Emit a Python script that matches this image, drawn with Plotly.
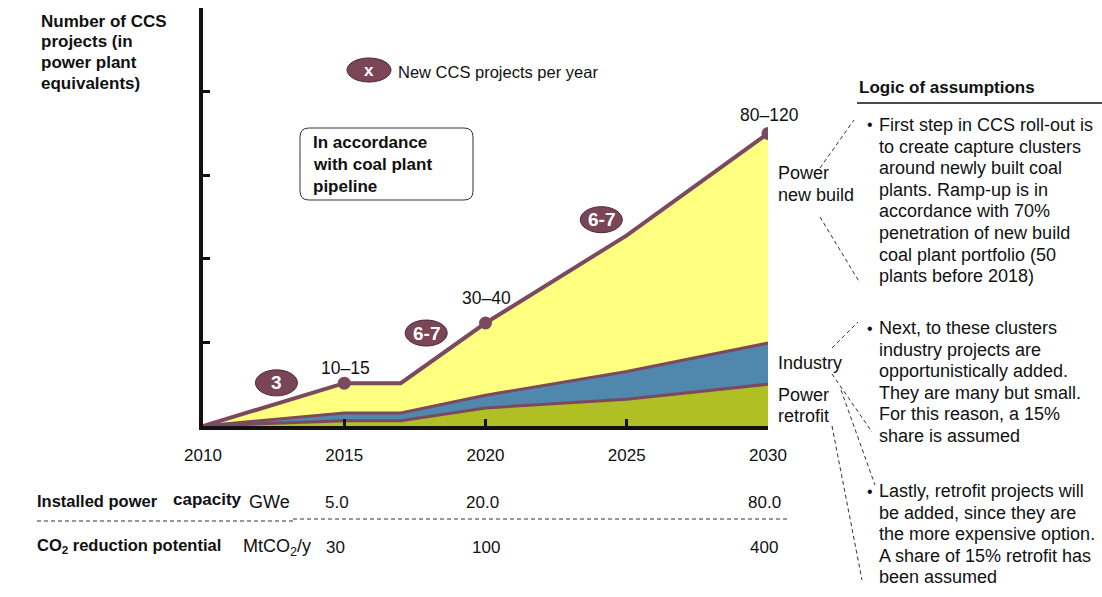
import numpy as np
import plotly.graph_objects as go

# ---------------- data ----------------
years = [2010, 2015, 2017, 2020, 2025, 2030]
power_retrofit = [0, 1.6, 1.6, 5.4, 8.0, 12.5]
industry = [0, 2.3, 2.3, 3.8, 8.3, 12.3]
power_new_build = [0, 8.9, 8.9, 21.6, 40.7, 62.7]

milestone_years = [2015, 2020, 2030]
milestone_labels = ["10–15", "30–40", "80–120"]

rate_labels = ["3", "6-7", "6-7"]
rate_x = [2012.6, 2017.9, 2024.1]
rate_y = [12.9, 27.8, 61.7]

tick_years = [2010, 2015, 2020, 2025, 2030]
table_years = [2015, 2020, 2030]
capacity_gwe = [5.0, 20.0, 80.0]
co2_reduction = [30, 100, 400]

y_axis_title = ["Number of CCS", "projects (in", "power plant", "equivalents)"]
box_text = ["In accordance", "with coal plant", "pipeline"]
bullet_1 = ["First step in CCS roll-out is", "to create capture clusters", "around newly built coal",
            "plants. Ramp-up is in", "accordance with 70%", "penetration of new build",
            "coal plant portfolio (50", "plants before 2018)"]
bullet_2 = ["Next, to these clusters", "industry projects are", "opportunistically added.",
            "They are many but small.", "For this reason, a 15%", "share is assumed"]
bullet_3 = ["Lastly, retrofit projects will", "be added, since they are",
            "the more expensive option.", "A share of 15% retrofit has", "been assumed"]

# ---------------- style ----------------
FONT = "Liberation Sans, Arial, sans-serif"
MAROON = "#7B4A5E"
OVAL = "#7A4556"
C_GREEN = "#B0C024"
C_BLUE = "#5087AD"
C_YELLOW = "#FFFF80"

L, R, T, B = 203, 768, 8, 426
W, H = R - L, B - T
FIG_W, FIG_H = 1102, 597


def px(x):
    return (x - L) / W


def py(y):
    return (B - y) / H


fig = go.Figure()

for name, vals, col, lw in [("Power retrofit", power_retrofit, C_GREEN, 3),
                            ("Industry", industry, C_BLUE, 3),
                            ("Power new build", power_new_build, C_YELLOW, 4)]:
    fig.add_trace(go.Scatter(x=years, y=vals, name=name, stackgroup="one", mode="lines",
                             line=dict(color=MAROON, width=lw), fillcolor=col,
                             hoverinfo="skip"))

total = np.array(power_retrofit) + np.array(industry) + np.array(power_new_build)
milestone_vals = [float(total[years.index(y)]) for y in milestone_years]
fig.add_trace(go.Scatter(x=milestone_years, y=milestone_vals, mode="markers",
                         marker=dict(size=13, color=MAROON), hoverinfo="skip"))

annotations = []
shapes = []


def text(x, y, s, size=18, bold=False, anchor="left", color="#111"):
    annotations.append(dict(x=px(x), y=py(y), xref="paper", yref="paper", text=("<b>%s</b>" % s) if bold else s,
                            showarrow=False, xanchor=anchor, yanchor="middle",
                            font=dict(family=FONT, size=size, color=color)))


# milestone labels
for yr, v, lab, ys in zip(milestone_years, milestone_vals, milestone_labels, [15, 25, 18]):
    annotations.append(dict(x=yr, y=v, xref="x", yref="y", text=lab, showarrow=False,
                            xanchor="center", yanchor="middle", yshift=ys, xshift=1,
                            font=dict(family=FONT, size=17.5, color="#111")))

# rate ovals
for lab, rx, ry in zip(rate_labels, rate_x, rate_y):
    shapes.append(dict(type="circle", xref="x", yref="y", xsizemode="pixel", ysizemode="pixel",
                       xanchor=rx, yanchor=ry, x0=-21, x1=21, y0=-13, y1=13,
                       fillcolor=OVAL, line=dict(color="#4a2633", width=1)))
    annotations.append(dict(x=rx, y=ry, xref="x", yref="y", text="<b>%s</b>" % lab, showarrow=False,
                            xanchor="center", yanchor="middle",
                            font=dict(family=FONT, size=19, color="white")))

# legend oval
shapes.append(dict(type="circle", xref="paper", yref="paper", xsizemode="pixel", ysizemode="pixel",
                   xanchor=px(369), yanchor=py(70), x0=-22, x1=22, y0=-12, y1=12,
                   fillcolor=OVAL, line=dict(color="#4a2633", width=1)))
text(369, 71, "x", size=17, bold=True, anchor="center", color="white")
text(396, 72, "New CCS projects per year", size=16.5)

# rounded box
hw, hh, r = 86.5, 36, 9
path = (f"M {-hw + r},{-hh} L {hw - r},{-hh} Q {hw},{-hh} {hw},{-hh + r} L {hw},{hh - r} "
        f"Q {hw},{hh} {hw - r},{hh} L {-hw + r},{hh} Q {-hw},{hh} {-hw},{hh - r} "
        f"L {-hw},{-hh + r} Q {-hw},{-hh} {-hw + r},{-hh} Z")
shapes.append(dict(type="path", xref="paper", yref="paper", xsizemode="pixel", ysizemode="pixel",
                   xanchor=px(386.5), yanchor=py(164), path=path,
                   fillcolor="white", line=dict(color="#333", width=1)))
for i, s in enumerate(box_text):
    text(311, 142 + i * 22.5, s, size=17, bold=True)

# y axis title
for i, s in enumerate(y_axis_title):
    text(39, 21 + i * 21, s, size=17, bold=True)

# series labels on the right
text(776, 173, "Power")
text(776, 195, "new build")
text(776, 363, "Industry")
text(776, 395, "Power")
text(776, 416, "retrofit")

# logic of assumptions
text(857, 87, "Logic of assumptions", size=17, bold=True)
shapes.append(dict(type="line", xref="paper", yref="paper", x0=px(857), x1=px(1102), y0=py(103), y1=py(103),
                   line=dict(color="#111", width=1.5)))
for lines, y0 in [(bullet_1, 125), (bullet_2, 328), (bullet_3, 491)]:
    text(865, y0, "•", size=16)
    for i, s in enumerate(lines):
        text(877, y0 + i * 21.6, s)

# leader lines
for (x0, y0, x1, y1) in [(820, 168, 854, 120), (820, 217, 860, 283), (832, 348, 858, 322),
                         (832, 374, 872, 432), (841, 390, 875, 485), (832, 426, 862, 580)]:
    shapes.append(dict(type="line", xref="paper", yref="paper", x0=px(x0), y0=py(y0), x1=px(x1), y1=py(y1),
                       line=dict(color="#333", width=1, dash="4px,3px")))

# table
text(35, 501, "Installed power", size=16.5, bold=True)
text(171, 500, "capacity", size=17, bold=True)
text(247, 502, "GWe", size=18)
text(35, 546, "CO<sub>2</sub> reduction potential", size=16.5, bold=True)
text(241, 547, "MtCO<sub>2</sub>/y", size=18)
for yr, cap, co2, sh1, sh2 in zip(table_years, capacity_gwe, co2_reduction, [-7, -3, -4], [-9, 0, -4]):
    annotations.append(dict(x=yr, y=py(502), xref="x", yref="paper", text=f"{cap:.1f}", showarrow=False,
                            xanchor="center", yanchor="middle", xshift=sh1,
                            font=dict(family=FONT, size=17, color="#111")))
    annotations.append(dict(x=yr, y=py(547), xref="x", yref="paper", text=f"{co2}", showarrow=False,
                            xanchor="center", yanchor="middle", xshift=sh2,
                            font=dict(family=FONT, size=17, color="#111")))
shapes.append(dict(type="line", xref="paper", yref="paper", x0=px(37), x1=px(293), y0=py(521), y1=py(521),
                   line=dict(color="#333", width=1, dash="4px,3px")))
shapes.append(dict(type="line", xref="paper", yref="paper", x0=px(293), x1=px(790), y0=py(519), y1=py(519),
                   line=dict(color="#333", width=1, dash="4px,3px")))

fig.update_layout(
    width=FIG_W, height=FIG_H,
    margin=dict(l=L, r=FIG_W - R, t=T, b=FIG_H - B),
    paper_bgcolor="white", plot_bgcolor="white",
    showlegend=False,
    font=dict(family=FONT, color="#111"),
    annotations=annotations, shapes=shapes,
    xaxis=dict(range=[2010, 2030], tickvals=tick_years, ticktext=[str(y) for y in tick_years],
               ticks="inside", ticklen=7, tickwidth=3, tickcolor="#111",
               showline=True, linewidth=4, linecolor="#111", showgrid=False, zeroline=False,
               tickfont=dict(family=FONT, size=17, color="#111"), ticklabelstandoff=11, fixedrange=True),
    yaxis=dict(range=[0, 125], tickvals=[25, 50, 75, 100, 125], showticklabels=False,
               ticks="inside", ticklen=7, tickwidth=3, tickcolor="#111",
               showline=True, linewidth=4, linecolor="#111", showgrid=False, zeroline=False,
               fixedrange=True),
)

fig.write_html("out.html", config={"displayModeBar": False})
